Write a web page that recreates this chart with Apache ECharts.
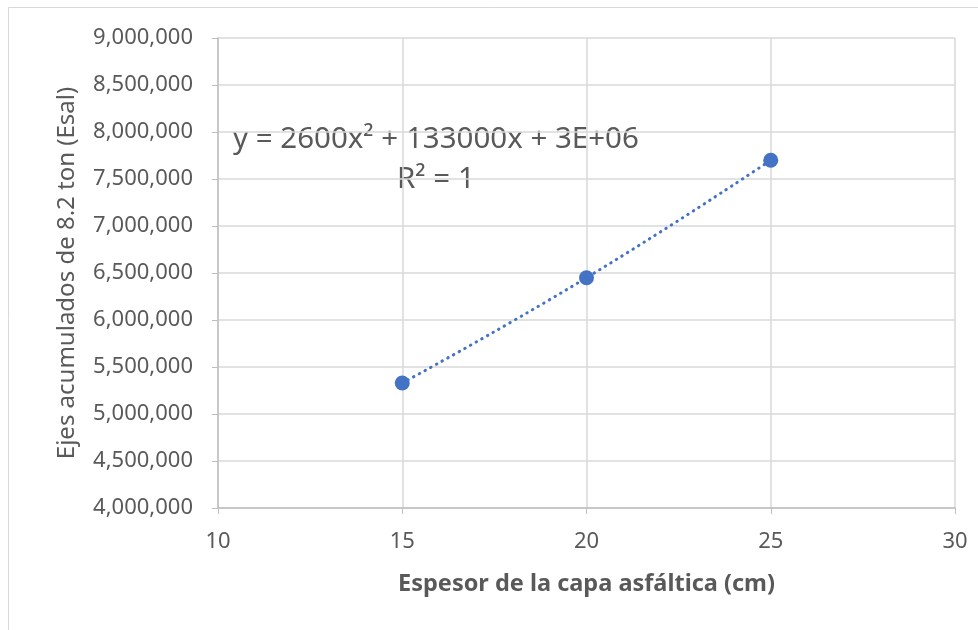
<!DOCTYPE html>
<html>
<head>
<meta charset="utf-8">
<script src="https://cdn.jsdelivr.net/npm/echarts@6/dist/echarts.min.js"></script>
<style>html,body{margin:0;padding:0;background:#fff}#c{width:978px;height:630px}</style>
</head>
<body>
<div id="c"></div>
<script>
var thickness = [15, 20, 25];
var esal = [5330000, 6450000, 7700000];
var xTicks = [10, 15, 20, 25, 30];
var equationText = 'y = 2600x\u00B2 + 133000x + 3E+06';
var r2Text = 'R\u00B2 = 1';
var xTitle = 'Espesor de la capa asfáltica (cm)';
var yTitle = 'Ejes acumulados de 8.2 ton (Esal)';

var pts = thickness.map(function (x, i) { return [x, esal[i]]; });
var font = 'Noto Sans';
var txt = '#595959';

var chart = echarts.init(document.getElementById('c'), null, {renderer: 'canvas'});
chart.setOption({
  animation: false,
  backgroundColor: '#fff',
  textStyle: {fontFamily: font},
  grid: {left: 218, right: 23, top: 38, bottom: 122, containLabel: false},
  graphic: [
    {type: 'polyline', shape: {points: [[8.5, 640], [8.5, 7.5], [990, 7.5]]},
     style: {stroke: '#d9d9d9', lineWidth: 1, fill: null}, silent: true},
    {type: 'text', left: 233, top: 125,
     style: {text: equationText, font: '29.5px "Noto Sans"', fill: txt}},
    {type: 'text', left: 397, top: 165,
     style: {text: r2Text, font: '29.5px "Noto Sans"', fill: txt}}
  ],
  xAxis: {
    type: 'value', min: 10, max: 30, interval: 5,
    name: xTitle, nameLocation: 'middle', nameGap: 64,
    nameTextStyle: {fontFamily: font, fontSize: 23.5, fontWeight: 'bold', color: txt},
    axisLine: {show: true, lineStyle: {color: '#bfbfbf', width: 1.5}},
    axisTick: {show: true, length: 6, lineStyle: {color: '#bfbfbf'}},
    axisLabel: {fontFamily: font, fontSize: 22, color: txt, margin: 23,
      formatter: function (v) { return xTicks.indexOf(v) >= 0 ? String(v) : ''; }},
    splitLine: {show: true, lineStyle: {color: '#d9d9d9', width: 1.5}}
  },
  yAxis: {
    type: 'value', min: 4000000, max: 9000000, interval: 500000,
    name: yTitle, nameLocation: 'middle', nameGap: 139,
    nameTextStyle: {fontFamily: font, fontSize: 24, color: txt},
    axisLine: {show: true, lineStyle: {color: '#bfbfbf', width: 1.5}},
    axisTick: {show: true, length: 6, lineStyle: {color: '#bfbfbf'}},
    axisLabel: {fontFamily: font, fontSize: 22, color: txt, margin: 25,
      formatter: function (v) { return v.toLocaleString('en-US'); }},
    splitLine: {show: true, lineStyle: {color: '#d9d9d9', width: 1.5}}
  },
  series: [
    {type: 'line', data: pts, smooth: true, symbol: 'none',
     lineStyle: {color: '#4472c4', width: 3, type: [0.5, 6], cap: 'round'}, z: 2},
    {type: 'scatter', data: pts, symbol: 'circle', symbolSize: 15,
     itemStyle: {color: '#4472c4', opacity: 1}, z: 3}
  ]
});
</script>
</body>
</html>
